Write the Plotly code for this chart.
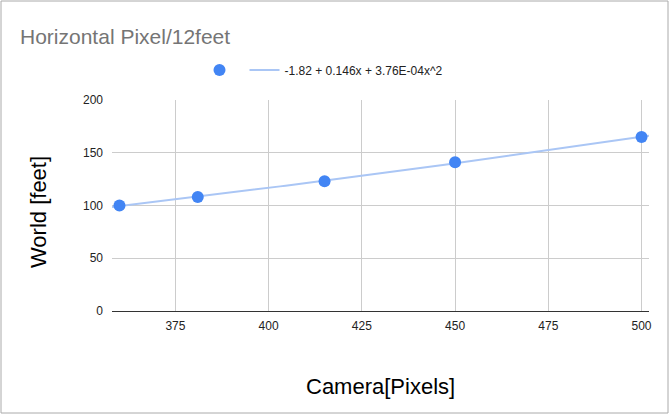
import numpy as np
import plotly.graph_objects as go

# data
camera_px = [360, 381, 415, 450, 500]
world_ft = [100, 108, 123, 141, 165]
# polynomial trendline coefficients as shown in the legend (c0, c1, c2)
trend_coef = [-1.82, 0.146, 3.76e-04]
trend_label = "-1.82 + 0.146x + 3.76E-04x^2"

x_range = [358, 502]
y_ticks = [0, 50, 100, 150, 200]
x_ticks = [375, 400, 425, 450, 475, 500]

W, H = 671, 415
ML, MR, MT, MB = 112, 22, 100, 104

xs = np.linspace(x_range[0], x_range[1], 100)
ys = trend_coef[0] + trend_coef[1] * xs + trend_coef[2] * xs ** 2

font = "Liberation Sans, Arial, sans-serif"

pw = W - ML - MR
ph = H - MT - MB

fig = go.Figure()
fig.add_trace(
    go.Scatter(
        x=xs,
        y=ys,
        mode="lines",
        name=trend_label,
        line=dict(color="#AAC6F5", width=2),
    )
)
fig.add_trace(
    go.Scatter(
        x=camera_px,
        y=world_ft,
        mode="markers",
        name="",
        marker=dict(color="#4285F4", size=12),
    )
)

fig.update_layout(
    width=W,
    height=H,
    margin=dict(l=ML, r=MR, t=MT, b=MB),
    paper_bgcolor="white",
    plot_bgcolor="white",
    font=dict(family=font, size=12, color="#222222"),
    title=dict(
        text="Horizontal Pixel/12feet",
        font=dict(family=font, size=21, color="#757575"),
        x=20 / W,
        xanchor="left",
        y=1 - 37 / H,
        yanchor="middle",
    ),
    legend=dict(
        orientation="h",
        traceorder="reversed",
        x=(324 - ML) / pw,
        xanchor="center",
        y=(H - MB - 70) / ph,
        yanchor="middle",
        font=dict(family=font, size=12, color="#222222"),
        itemwidth=30,
    ),
    showlegend=True,
    xaxis=dict(
        range=x_range,
        tickvals=x_ticks,
        showgrid=True,
        gridcolor="#CCCCCC",
        zeroline=False,
        showline=False,
        ticks="",
        ticklabelstandoff=6,
    ),
    yaxis=dict(
        range=[0, 200],
        tickvals=y_ticks,
        showgrid=True,
        gridcolor="#CCCCCC",
        zeroline=True,
        zerolinecolor="#333333",
        zerolinewidth=1.2,
        showline=False,
        ticks="",
        ticklabelstandoff=8,
    ),
    annotations=[
        dict(
            text="Camera[Pixels]",
            xref="paper",
            yref="paper",
            x=(380 - ML) / pw,
            y=(H - MB - 386) / ph,
            xanchor="center",
            yanchor="middle",
            showarrow=False,
            font=dict(family=font, size=22, color="#000000"),
        ),
        dict(
            text="World [feet]",
            xref="paper",
            yref="paper",
            x=(38 - ML) / pw,
            y=(H - MB - 212) / ph,
            xanchor="center",
            yanchor="middle",
            textangle=-90,
            showarrow=False,
            font=dict(family=font, size=22, color="#000000"),
        ),
    ],
    shapes=[
        dict(
            type="rect",
            xref="paper",
            yref="paper",
            x0=-(ML - 1) / pw,
            x1=1 + (MR - 3) / pw,
            y0=-(MB - 2) / ph,
            y1=1 + (MT - 1) / ph,
            line=dict(color="#AAAAAA", width=1),
            layer="below",
        )
    ],
)

fig.write_html(
    "out.html",
    config={"displayModeBar": False},
    post_script="document.body.style.margin='0';",
)
